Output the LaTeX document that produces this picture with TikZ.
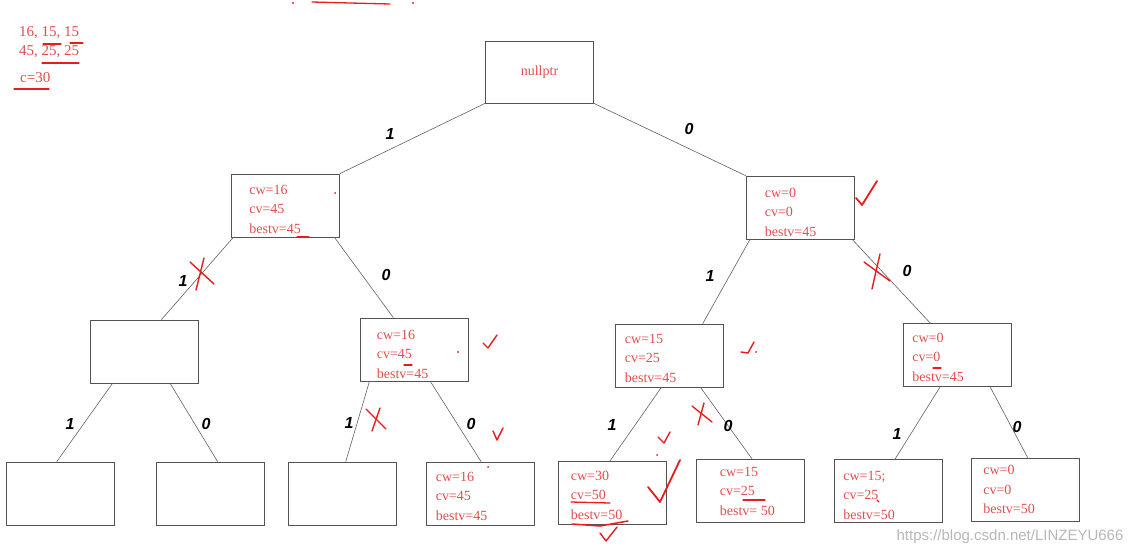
\documentclass[tikz,border=0pt]{standalone}
\usepackage{fontspec}
\setmainfont{Liberation Serif}
\newfontfamily\edgefont{Liberation Sans}
\usetikzlibrary{calc}

\begin{document}
\begin{tikzpicture}[
  x=1pt, y=-1pt,
  box/.style={draw=black!68, line width=0.7pt, minimum width=108pt, minimum height=63pt, inner sep=0pt},
  val/.style={anchor=west, inner sep=0pt, align=left, text=valred, font=\fontsize{14}{19.5}\selectfont},
  note/.style={anchor=west, inner sep=0pt, text=valred, font=\fontsize{15}{15}\selectfont},
  edge/.style={draw=black!62, line width=0.6pt},
  bit/.style={font=\edgefont\bfseries\itshape\fontsize{16}{16}\selectfont, text=black},
  ink/.style={draw=inkred, line width=1.8pt, line cap=round, line join=round},
  dot/.style={fill=inkred}
]

\definecolor{valred}{RGB}{226,78,78}
\definecolor{inkred}{RGB}{232,28,28}

\useasboundingbox (0,0) rectangle (1141,554);
\fill[white] (0,0) rectangle (1141,554);

% tree boxes
\node[box, minimum height=62pt] (root) at (539.5,72) {};
\node[text=valred, font=\fontsize{14}{14}\selectfont] (rootlbl) at (root) {nullptr};

\node[box] (A) at (285.5,205.5) {};
\node[box] (B) at (800,207.5) {};
\node[box] (C) at (144,351.5) {};
\node[box] (D) at (414,349.5) {};
\node[box] (E) at (669,355.5) {};
\node[box] (F) at (957.5,355) {};
\node[box] (G) at (60,493.5) {};
\node[box] (H) at (210,493.5) {};
\node[box] (I) at (342.5,493.5) {};
\node[box] (J) at (480,493.5) {};
\node[box] (K) at (612,493) {};
\node[box] (L) at (750,491) {};
\node[box] (M) at (888.5,491) {};
\node[box] (N) at (1025.5,489.5) {};

% values in the boxes
\node[val] (Aval) at ([xshift=18pt,yshift=-3.5pt]A.west) {cw=16\\cv=45\\bestv=45};
\node[val] (Bval) at ([xshift=19pt,yshift=-4.5pt]B.west) {cw=0\\cv=0\\bestv=45};
\node[val] (Dval) at ([xshift=17pt,yshift=-4.5pt]D.west) {cw=16\\cv=45\\bestv=45};
\node[val] (Eval) at ([xshift=10pt,yshift=-2.5pt]E.west) {cw=15\\cv=25\\bestv=45};
\node[val] (Fval) at ([xshift=9pt,yshift=-2pt]F.west) {cw=0\\cv=0\\bestv=45};
\node[val] (Jval) at ([xshift=10pt,yshift=-2.5pt]J.west) {cw=16\\cv=45\\bestv=45};
\node[val] (Kval) at ([xshift=13pt,yshift=-2pt]K.west) {cw=30\\cv=50\\bestv=50};
\node[val] (Lval) at ([xshift=24pt]L.west) {cw=15\\cv=25\\bestv= 50};
\node[val] (Mval) at ([xshift=9pt,yshift=-4pt]M.west) {cw=15;\\cv=25\\bestv=50};
\node[val] (Nval) at ([xshift=12pt]N.west) {cw=0\\cv=0\\bestv=50};

% branches
\foreach \p/\s/\c/\t in {root/0/A/1, root/1/B/0, A/0.02/C/0.66, A/0.95/D/0.31,
    B/0.04/E/0.81, B/0.98/F/0.25, C/0.21/G/0.47, C/0.74/H/0.57,
    D/0.09/I/0.53, D/0.65/J/0.51, E/0.43/K/0.48, E/0.79/L/0.52,
    F/0.34/M/0.56, F/0.8/N/0.52}
  \draw[edge] ($(\p.south west)!\s!(\p.south east)$) -- ($(\c.north west)!\t!(\c.north east)$);

\node[bit] (bA) at (390,134) {1};
\node[bit] (bB) at (689,129) {0};
\node[bit] (bC) at (183,281) {1};
\node[bit] (bD) at (386,275) {0};
\node[bit] (bE) at (710,276) {1};
\node[bit] (bF) at (907,271) {0};
\node[bit] (bG) at (70,424) {1};
\node[bit] (bH) at (206,424) {0};
\node[bit] (bI) at (349,423) {1};
\node[bit] (bJ) at (471,424) {0};
\node[bit] (bK) at (612,425) {1};
\node[bit] (bL) at (728,426) {0};
\node[bit] (bM) at (897,434) {1};
\node[bit] (bN) at (1017,427) {0};

% weights, values and capacity
\node[note] (wts) at (19,33) {16, 15, 15};
\node[note] (vals) at (19,52) {45, 25, 25};
\node[note] (cap) at (20,78) {c=30};

% hand marks
\draw[ink, line width=1.3pt] (43,44) -- (61,44);
\draw[ink, line width=1.3pt] (70,43) -- (83,43);
\draw[ink, line width=1.3pt] (42,63) -- (79,63);
\draw[ink, line width=1.3pt] (14,89) -- (49,89);
\fill[dot] (293,3) circle (1.2);
\draw[ink, line width=1.3pt] (312,2) -- (350,3) -- (390,4);
\fill[dot] (413,3) circle (1.2);

\fill[dot] (335,193) circle (1);
\draw[ink, line width=1.3pt] (297,237) -- (309,237);
\draw[ink] (856,198) -- (862,205) -- (877,181);
\draw[ink, line width=1.4pt] (190,262) -- (214,284);
\draw[ink, line width=1.4pt] (204,258) -- (196,290);
\draw[ink, line width=1.4pt] (864,262) -- (890,281);
\draw[ink, line width=1.4pt] (880,254) -- (872,289);

\draw[ink, line width=1.4pt] (483,343) -- (488,348) -- (497,335);
\fill[dot] (458,352) circle (1);
\draw[ink, line width=1.3pt] (404,365) -- (412,365);
\draw[ink, line width=1.4pt] (741,352) -- (748,353) -- (754,342);
\fill[dot] (756,352) circle (1);
\draw[ink, line width=1.3pt] (933,368) -- (941,368);

\draw[ink, line width=1.4pt] (366,409) -- (386,429);
\draw[ink, line width=1.4pt] (380,408) -- (372,431);
\draw[ink, line width=1.4pt] (493,431) -- (497,440) -- (503,428);
\fill[dot] (488,467) circle (1);
\draw[ink, line width=1.4pt] (692,406) -- (712,422);
\draw[ink, line width=1.4pt] (704,403) -- (698,425);

\draw[ink, line width=1.4pt] (658,437) -- (664,443) -- (670,432);
\fill[dot] (657,455) circle (1);
\draw[ink] (648,487) -- (660,502) -- (680,460);
\draw[ink, line width=1.3pt] (571,502) -- (610,503);
\draw[ink, line width=1.5pt] (572,524) -- (600,526) -- (628,521);
\draw[ink, line width=1.4pt] (600,533) -- (606,541) -- (617,527);
\draw[ink, line width=1.3pt] (743,500) -- (765,500);
\draw[ink, line width=1.2pt] (877,500) -- (879,502);

\node[text=black!28, font=\edgefont\fontsize{15}{15}\selectfont] (mark) at (1010,537) {https://blog.csdn.net/LINZEYU666};

\end{tikzpicture}
\end{document}
